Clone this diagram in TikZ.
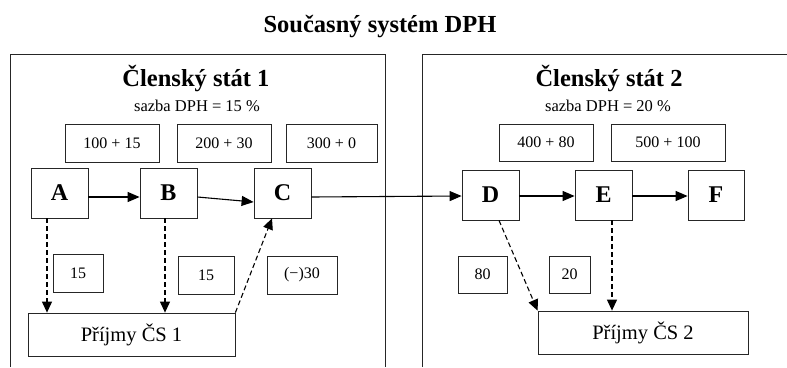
\documentclass[tikz,border=0pt]{standalone}
\usepackage{fontspec}
\setmainfont{Liberation Serif}
\usetikzlibrary{arrows.meta}
\begin{document}
\begin{tikzpicture}[x=1pt,y=-1pt,
  frame/.style={line width=1pt,draw=black!85},
  box/.style={draw=black!85,line width=0.8pt,inner sep=0pt,font=\fontsize{16}{18}\selectfont},
  firm/.style={box,minimum width=57pt,minimum height=50pt,font=\fontsize{24}{26}\selectfont\bfseries},
  arr/.style={line width=1.1pt,-{Triangle[length=12pt,width=10pt]}},
  darr/.style={line width=1.1pt,dash pattern=on 5pt off 3pt,-{Triangle[length=11pt,width=10pt]}},
  big/.style={font=\fontsize{24.5}{26}\selectfont\bfseries,anchor=base},
  sub/.style={font=\fontsize{16.5}{18}\selectfont,anchor=base}
]
\useasboundingbox (0,0) rectangle (787,367);
% title
\node[big] (title) at (380,32) {Současný systém DPH};
% frames
\draw[frame] (10,367) -- (10,54) -- (385,54) -- (385,367);
\draw[frame] (422,367) -- (422,54) -- (787,54);
\node[big] (t1) at (196,86) {Členský stát 1};
\node[big] (t2) at (609,86) {Členský stát 2};
\node[sub] (s1) at (197,111) {sazba DPH = 15 \%};
\node[sub] (s2) at (608,111) {sazba DPH = 20 \%};
% price boxes
\node[box,minimum width=94pt,minimum height=38pt] (p1) at (112,143) {100 + 15};
\node[box,minimum width=94pt,minimum height=38pt] (p2) at (224,143) {200 + 30};
\node[box,minimum width=91pt,minimum height=38pt] (p3) at (331.5,143) {300 + 0};
\node[box,minimum width=94pt,minimum height=37pt] (p4) at (546,142.5) {400 + 80};
\node[box,minimum width=114pt,minimum height=37pt] (p5) at (668,142.5) {500 + 100};
% firms
\node[firm] (A) at (59.5,193) {A};
\node[firm] (B) at (168.5,193) {B};
\node[firm] (C) at (282.5,193) {C};
\node[firm] (D) at (490.5,195) {D};
\node[firm] (E) at (603.5,195) {E};
\node[firm,minimum width=56pt] (F) at (716,195) {F};
% tax boxes
\node[box,minimum width=50pt,minimum height=38pt] (v1) at (78,273) {15};
\node[box,minimum width=56pt,minimum height=38pt] (v2) at (206,275) {15};
\node[box,minimum width=70pt,minimum height=38pt] (v3) at (302,275) {(−)30};
\node[box,minimum width=49pt,minimum height=37pt] (v4) at (482.5,274.5) {80};
\node[box,minimum width=41pt,minimum height=37pt] (v5) at (569.5,274.5) {20};
% revenues
\node[box,minimum width=207pt,minimum height=43pt,font=\fontsize{20.5}{22}\selectfont] (R1) at (131.5,334.5) {Příjmy ČS 1};
\node[box,minimum width=210pt,minimum height=43pt,font=\fontsize{20.5}{22}\selectfont] (R2) at (643,332.5) {Příjmy ČS 2};
% helper coordinates
\coordinate (yl) at (0,197);
\coordinate (yc) at (0,202);
\coordinate (yr) at (0,196);
\coordinate (xa) at (47,0);
\coordinate (xb) at (165,0);
\coordinate (xc) at (272,0);
\coordinate (xd) at (499,0);
\coordinate (xe) at (612,0);
% solid arrows
\draw[arr] (A.east |- yl) -- (B.west |- yl);
\draw[arr] (B.east |- yl) -- (C.west |- yc);
\draw[arr] (C.east |- yl) -- (D.west |- yr);
\draw[arr] (D.east |- yr) -- (E.west |- yr);
\draw[arr] (E.east |- yr) -- (F.west |- yr);
% dashed arrows
\draw[darr] (xa |- A.south) -- (xa |- R1.north);
\draw[darr] (xb |- B.south) -- (xb |- R1.north);
\draw[darr] (R1.north east) -- (xc |- C.south);
\draw[darr] (xd |- D.south) -- (R2.north west);
\draw[darr] (xe |- E.south) -- (xe |- R2.north);
\end{tikzpicture}
\end{document}
